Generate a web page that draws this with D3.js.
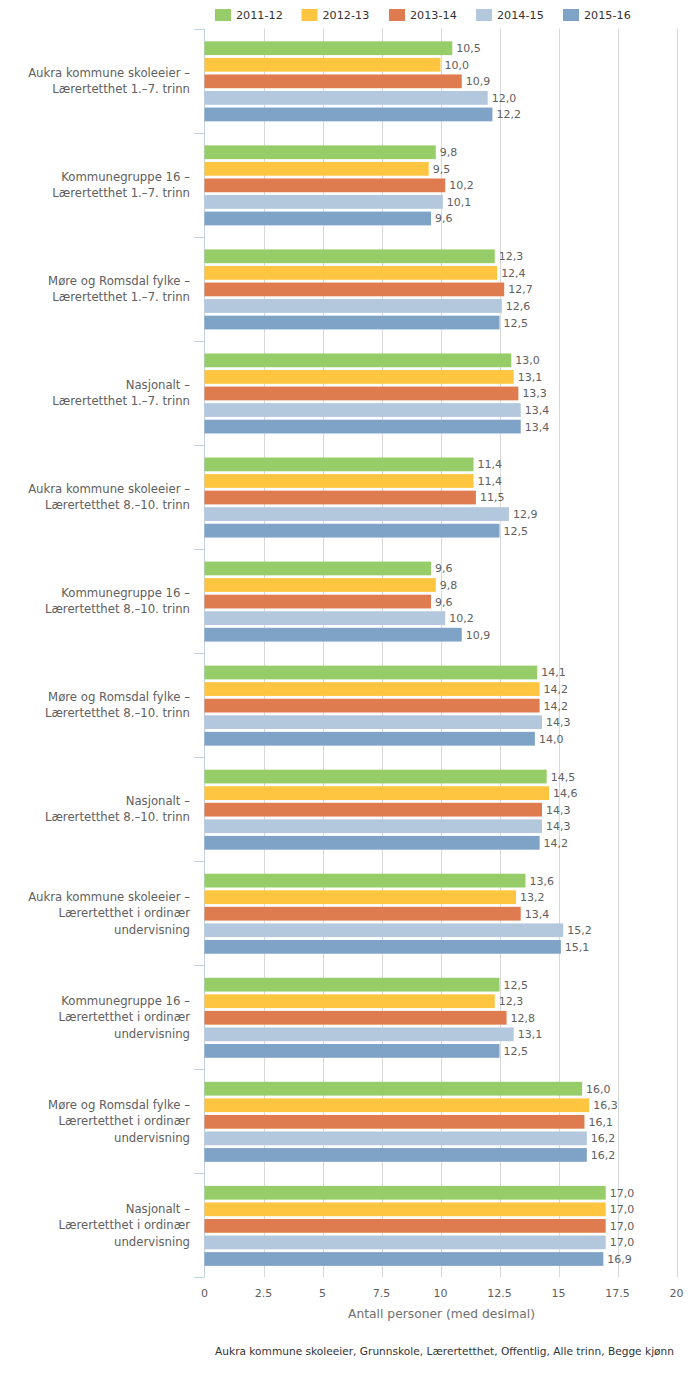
<!DOCTYPE html>
<html><head><meta charset="utf-8">
<script src="https://cdn.jsdelivr.net/npm/d3@7"></script>
<style>body{margin:0;background:#fff}svg{display:block}</style>
</head><body>
<script>
const categories = [
  ["Aukra kommune skoleeier –","Lærertetthet 1.–7. trinn"],
  ["Kommunegruppe 16 –","Lærertetthet 1.–7. trinn"],
  ["Møre og Romsdal fylke –","Lærertetthet 1.–7. trinn"],
  ["Nasjonalt –","Lærertetthet 1.–7. trinn"],
  ["Aukra kommune skoleeier –","Lærertetthet 8.–10. trinn"],
  ["Kommunegruppe 16 –","Lærertetthet 8.–10. trinn"],
  ["Møre og Romsdal fylke –","Lærertetthet 8.–10. trinn"],
  ["Nasjonalt –","Lærertetthet 8.–10. trinn"],
  ["Aukra kommune skoleeier –","Lærertetthet i ordinær","undervisning"],
  ["Kommunegruppe 16 –","Lærertetthet i ordinær","undervisning"],
  ["Møre og Romsdal fylke –","Lærertetthet i ordinær","undervisning"],
  ["Nasjonalt –","Lærertetthet i ordinær","undervisning"]
];
const seriesNames = ["2011-12","2012-13","2013-14","2014-15","2015-16"];
const seriesColors = ["#97cd69","#fec640","#df7c4f","#b3c8dc","#7fa3c7"];
const s2011 = [10.5, 9.8,12.3,13.0,11.4, 9.6,14.1,14.5,13.6,12.5,16.0,17.0];
const s2012 = [10.0, 9.5,12.4,13.1,11.4, 9.8,14.2,14.6,13.2,12.3,16.3,17.0];
const s2013 = [10.9,10.2,12.7,13.3,11.5, 9.6,14.2,14.3,13.4,12.8,16.1,17.0];
const s2014 = [12.0,10.1,12.6,13.4,12.9,10.2,14.3,14.3,15.2,13.1,16.2,17.0];
const s2015 = [12.2, 9.6,12.5,13.4,12.5,10.9,14.0,14.2,15.1,12.5,16.2,16.9];
const seriesValues = [s2011,s2012,s2013,s2014,s2015];
const xTicks = [0,2.5,5,7.5,10,12.5,15,17.5,20];
const xTitle = "Antall personer (med desimal)";
const footer = "Aukra kommune skoleeier, Grunnskole, Lærertetthet, Offentlig, Alle trinn, Begge kjønn";

(function () {
const W = 700, H = 1382;
const svg = d3.select("body").append("svg").attr("width", W).attr("height", H);
const font = "'DejaVu Sans', Verdana, sans-serif";
const textCol = "#606060";

const plotTop = 28.7, plotBottom = 1277.3;
const x = d3.scaleLinear().domain([0,20]).range([204.5, 676.5]);
const y = d3.scaleBand().domain(d3.range(categories.length)).range([plotTop, plotBottom]).padding(0);
// inner series positions: 5 slots of ~16px, bars ~13.3px high, centred in category band
const inner = d3.scaleBand().domain(d3.range(seriesNames.length)).range([0, 80]).paddingInner(0.169).paddingOuter(0.0);

// gridlines
svg.append("g").selectAll("line").data(xTicks.slice(1)).join("line")
  .attr("x1", d => Math.round(x(d)) + 0.5).attr("x2", d => Math.round(x(d)) + 0.5)
  .attr("y1", plotTop).attr("y2", plotBottom)
  .attr("stroke", "#d8d8d8").attr("stroke-width", 1);

// left axis line
svg.append("line").attr("x1", 204.5).attr("x2", 204.5).attr("y1", plotTop).attr("y2", plotBottom)
  .attr("stroke", "#c0d0e0").attr("stroke-width", 1);
// category ticks
svg.append("g").selectAll("line").data(d3.range(categories.length + 1)).join("line")
  .attr("x1", 194).attr("x2", 204.5)
  .attr("y1", i => Math.round(plotTop + i * y.step()) + 0.5)
  .attr("y2", i => Math.round(plotTop + i * y.step()) + 0.5)
  .attr("stroke", "#c0d0e0").attr("stroke-width", 1);

// bars
const groupH = inner.step() * 4 + inner.bandwidth();
const groups = svg.append("g").selectAll("g").data(categories).join("g")
  .attr("transform", (d, i) => `translate(0,${y(i) + y.bandwidth() / 2 - groupH / 2 + 0.6})`);
groups.each(function(cat, ci) {
  const g = d3.select(this);
  seriesValues.forEach((vals, si) => {
    const v = vals[ci];
    g.append("rect")
      .attr("x", x(0)).attr("y", inner(si))
      .attr("width", x(v) - x(0)).attr("height", inner.bandwidth())
      .attr("fill", seriesColors[si]);
    g.append("text")
      .attr("x", x(v) + 4).attr("y", inner(si) + inner.bandwidth() / 2)
      .attr("dy", "0.36em")
      .attr("font-family", font).attr("font-size", 11).attr("fill", textCol)
      .text(d3.format(".1f")(v).replace(".", ","));
  });
});

// category labels
svg.append("g").selectAll("text").data(categories).join("text")
  .attr("font-family", font).attr("font-size", 11.7).attr("fill", textCol)
  .attr("text-anchor", "end")
  .each(function(lines, i) {
    const cy = y(i) + y.bandwidth() / 2;
    const lh = 16.4;
    const t = d3.select(this);
    lines.forEach((ln, k) => {
      t.append("tspan").attr("x", 190)
        .attr("y", cy + (k - (lines.length - 1) / 2) * lh)
        .attr("dy", "0.36em").text(ln);
    });
  });

// x tick labels
svg.append("g").selectAll("text").data(xTicks).join("text")
  .attr("x", d => x(d)).attr("y", 1297)
  .attr("text-anchor", "middle")
  .attr("font-family", font).attr("font-size", 11).attr("fill", textCol)
  .text(d => String(d));

// axis title
svg.append("text").attr("x", x(10) + 1).attr("y", 1318).attr("text-anchor", "middle")
  .attr("font-family", font).attr("font-size", 12.3).attr("fill", "#707070").text(xTitle);

// footer
svg.append("text").attr("x", 674).attr("y", 1355).attr("text-anchor", "end")
  .attr("font-family", font).attr("font-size", 10.6).attr("fill", "#333").text(footer);

// legend
const legendX = [215, 301.5, 389, 476, 563];
const lg = svg.append("g").selectAll("g").data(seriesNames).join("g")
  .attr("transform", (d, i) => `translate(${legendX[i]},0)`);
lg.append("rect").attr("x", 0).attr("y", 9).attr("width", 16).attr("height", 12)
  .attr("fill", (d, i) => seriesColors[i]);
lg.append("text").attr("x", 21).attr("y", 15).attr("dy", "0.36em")
  .attr("font-family", font).attr("font-size", 11.2).attr("fill", "#333").text(d => d);
})();
</script>
</body></html>
